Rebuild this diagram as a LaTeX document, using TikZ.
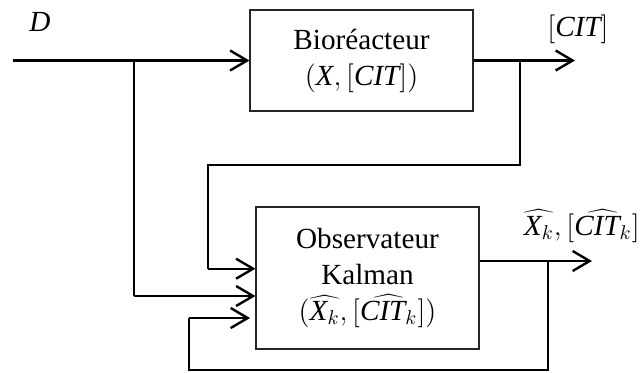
\documentclass[tikz,border=0pt]{standalone}
\usepackage{fontspec}
\setmainfont{Liberation Serif}
\usetikzlibrary{arrows.meta}
\begin{document}
\begin{tikzpicture}[x=0.5pt,y=-0.5pt,
  blk/.style={draw=black!85,line width=0.55pt,align=center,inner sep=0pt,
    minimum width=111.5pt,font=\fontsize{14.6}{18}\selectfont},
  wire/.style={line width=1.2pt},
  arr/.style={wire,-{Straight Barb[length=8.5pt,width=10pt,line width=1.2pt]}},
  lbl/.style={font=\fontsize{14.6}{18}\selectfont,inner sep=0pt}]
\useasboundingbox (0,0) rectangle (640,372);
\node[blk,minimum height=50.5pt] (bio) at (361.5,60.5) {Bioréacteur\\$(\mathit{X},[\mathit{CIT}])$};
\node[blk,minimum height=71pt] (obs) at (367.5,278) {Observateur\\Kalman\\$(\widehat{\mathit{X}_k},[\widehat{\mathit{CIT}_k}])$};
\node[lbl] (ld) at (40,22) {$\mathit{D}$};
\node[lbl] (lcit) at (578,29) {$[\mathit{CIT}]$};
\node[lbl,anchor=east] (lobs) at (640,226) {$\widehat{\mathit{X}_k},[\widehat{\mathit{CIT}_k}]$};
\coordinate (din) at (13,60.5);
\coordinate (bd) at (134,60.5);
\coordinate (i2) at (134,296);
\coordinate (out1) at (575,60.5);
\coordinate (b1) at (520,60.5);
\coordinate (c1) at (520,165);
\coordinate (c2) at (208,165);
\coordinate (i1) at (208,268.7);
\coordinate (out2) at (592,261);
\coordinate (b2) at (548,261);
\coordinate (f1) at (548,370);
\coordinate (f2) at (189,370);
\coordinate (f3) at (189,318);
\draw[arr] (din) -- (bio.west);
\draw[arr] (bio.east) -- (out1);
\draw[wire] (b1) -- (c1) -- (c2) -- (i1);
\draw[arr] (i1) -- (i1 -| obs.west);
\draw[wire] (bd) -- (i2);
\draw[arr] (i2) -- (i2 -| obs.west);
\draw[arr] (obs.east |- out2) -- (out2);
\draw[wire] (b2) -- (f1) -- (f2) -- (f3);
\draw[arr,shorten >=2.7pt] (f3) -- (f3 -| obs.west);
\end{tikzpicture}
\end{document}
